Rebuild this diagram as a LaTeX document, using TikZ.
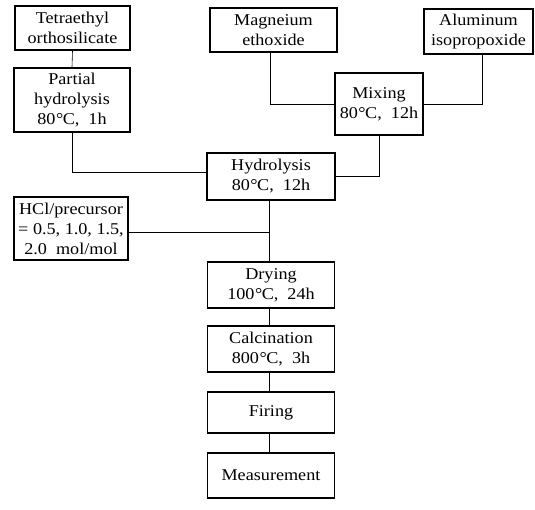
\documentclass[tikz,border=0pt]{standalone}
\usepackage{fontspec}
\setmainfont{Liberation Serif}[FakeStretch=1.1]
\begin{document}
\begin{tikzpicture}[x=1pt,y=-1pt,
  box/.style={draw,line width=1.2pt,inner sep=0pt,align=center,
    font=\fontsize{16.5}{20}\selectfont},
  link/.style={line width=0.6pt}]
\useasboundingbox (0,0) rectangle (535,509);
\newcommand{\dg}[1]{#1\kern0.5pt°\kern-0.5pt C}
\node[box,minimum width=115pt,minimum height=44pt] (teos) at (72.5,28) {Tetraethyl\\orthosilicate};
\node[box,minimum width=116pt,minimum height=64pt] (partial) at (72,100) {Partial\\hydrolysis\\\dg{80},\ \ 1h};
\node[box,minimum width=127pt,minimum height=44pt] (mag) at (273.5,30) {Magneium\\ethoxide};
\node[box,minimum width=109pt,minimum height=45pt] (alu) at (478.5,31.5) {Aluminum\\isopropoxide};
\node[box,minimum width=88pt,minimum height=62pt] (mix) at (379,104) {Mixing\\\dg{80},\ \ 12h};
\node[box,minimum width=128pt,minimum height=47pt] (hyd) at (271,176.5) {Hydrolysis\\\dg{80},\ \ 12h};
\node[box,minimum width=114pt,minimum height=63pt] (hcl) at (71,228.5) {HCl/precursor\\= 0.5,\ 1.0,\ 1.5,\\2.0\ \ mol/mol};
\node[box,minimum width=127pt,minimum height=46pt] (dry) at (271,285) {Drying\\\dg{100},\ \ 24h};
\node[box,minimum width=127pt,minimum height=46pt] (calc) at (271,349) {Calcination\\\dg{800},\ \ 3h};
\node[box,minimum width=127pt,minimum height=41pt] (fire) at (271,412.5) {Firing};
\node[box,minimum width=127pt,minimum height=45pt] (meas) at (271,475.5) {Measurement};
\draw[link] (teos.south) -- (partial.north);
\draw[link] (partial.south) |- ([yshift=4.5pt]hyd.west);
\draw[link] ([xshift=-3.5pt]mag.south) |- (mix.west);
\draw[link] ([xshift=3.5pt]alu.south) |- (mix.east);
\draw[link] (mix.south) |- (hyd.east);
\draw[link] ([xshift=-2pt]hyd.south) -- ([xshift=-2pt]dry.north);
\draw[link] ([yshift=-3.5pt]hcl.east) -- ([yshift=-3.5pt,xshift=-2pt]hcl.east -| hyd.south);
\draw[link] ([xshift=-2pt]dry.south) -- ([xshift=-2pt]calc.north);
\draw[link] ([xshift=-2pt]calc.south) -- ([xshift=-2pt]fire.north);
\draw[link] ([xshift=-2pt]fire.south) -- ([xshift=-2pt]meas.north);
\end{tikzpicture}
\end{document}
